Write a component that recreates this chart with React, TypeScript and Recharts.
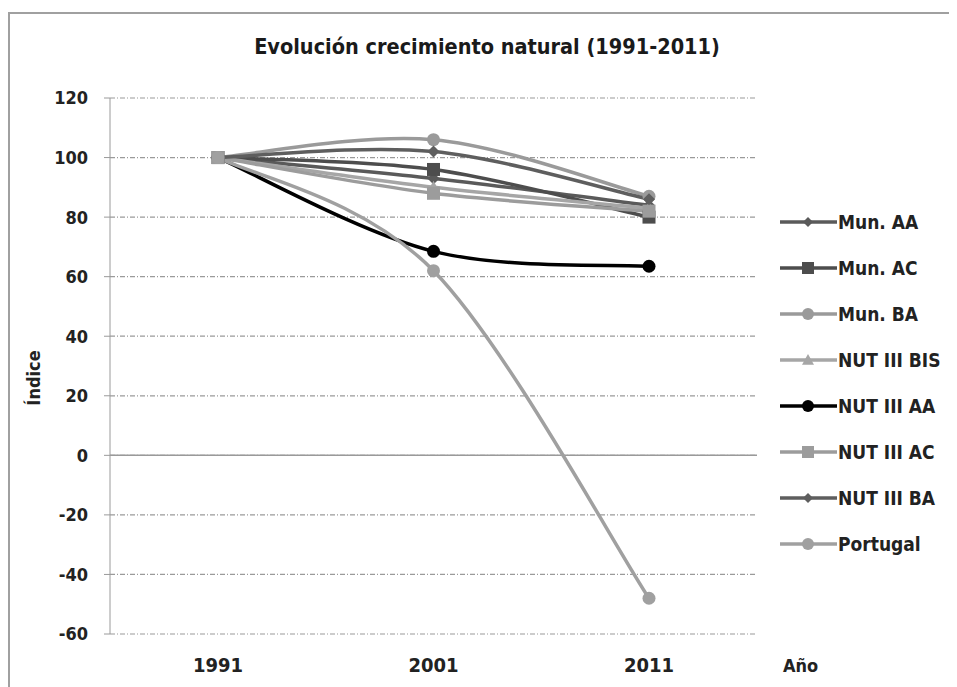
import { LineChart, Line, XAxis, YAxis, CartesianGrid, ReferenceLine } from "recharts";

const years = ["1991", "2001", "2011"];
const munAA = [100, 93, 84];
const munAC = [100, 96, 80];
const munBA = [100, 106, 87];
const nutBIS = [100, 90, 83];
const nutAA = [100, 68.5, 63.5];
const nutAC = [100, 88, 82];
const nutBA = [100, 102, 86];
const portugal = [100, 62, -48];
const yTicks = [-60, -40, -20, 0, 20, 40, 60, 80, 100, 120];

const FONT = "'DejaVu Sans Condensed', 'Liberation Sans Narrow', 'DejaVu Sans', sans-serif";

type Shape = "diamond" | "square" | "circle" | "triangle";

const series: { key: string; name: string; values: number[]; color: string; shape: Shape }[] = [
  { key: "munAA", name: "Mun. AA", values: munAA, color: "#5a5a5a", shape: "diamond" },
  { key: "munAC", name: "Mun. AC", values: munAC, color: "#4d4d4d", shape: "square" },
  { key: "munBA", name: "Mun. BA", values: munBA, color: "#9a9a9a", shape: "circle" },
  { key: "nutBIS", name: "NUT III BIS", values: nutBIS, color: "#a6a6a6", shape: "triangle" },
  { key: "nutAA", name: "NUT III AA", values: nutAA, color: "#000000", shape: "circle" },
  { key: "nutAC", name: "NUT III AC", values: nutAC, color: "#9c9c9c", shape: "square" },
  { key: "nutBA", name: "NUT III BA", values: nutBA, color: "#5e5e5e", shape: "diamond" },
  { key: "portugal", name: "Portugal", values: portugal, color: "#a0a0a0", shape: "circle" },
];

const data = years.map((year, i) => {
  const row: Record<string, string | number> = { year };
  series.forEach((s) => (row[s.key] = s.values[i]));
  return row;
});

// spreadsheet-style smoothing (cardinal bezier, control = P1 ± (P2 - P0) / 6)
const smoothCurve = (context: any) => {
  let pts: number[][] = [];
  return {
    areaStart() {},
    areaEnd() {},
    lineStart() {
      pts = [];
    },
    point(x: number, y: number) {
      pts.push([+x, +y]);
    },
    lineEnd() {
      if (!pts.length) return;
      context.moveTo(pts[0][0], pts[0][1]);
      for (let i = 0; i < pts.length - 1; i++) {
        const p0 = pts[Math.max(i - 1, 0)];
        const p1 = pts[i];
        const p2 = pts[i + 1];
        const p3 = pts[Math.min(i + 2, pts.length - 1)];
        context.bezierCurveTo(
          p1[0] + (p2[0] - p0[0]) / 6,
          p1[1] + (p2[1] - p0[1]) / 6,
          p2[0] - (p3[0] - p1[0]) / 6,
          p2[1] - (p3[1] - p1[1]) / 6,
          p2[0],
          p2[1]
        );
      }
    },
  };
};

// marker drawn around (cx, cy)
const marker = (shape: Shape, cx: number, cy: number, color: string, size: number, k?: string) => {
  if (shape === "square")
    return <rect key={k} x={cx - size} y={cy - size} width={size * 2} height={size * 2} fill={color} />;
  if (shape === "diamond")
    return (
      <path
        key={k}
        d={`M${cx},${cy - size} L${cx + size},${cy} L${cx},${cy + size} L${cx - size},${cy} Z`}
        fill={color}
      />
    );
  if (shape === "triangle")
    return (
      <path
        key={k}
        d={`M${cx},${cy - size} L${cx + size},${cy + size * 0.8} L${cx - size},${cy + size * 0.8} Z`}
        fill={color}
      />
    );
  return <circle key={k} cx={cx} cy={cy} r={size} fill={color} />;
};

const dotFor = (shape: Shape, color: string) => (props: any) => {
  const { cx, cy, index } = props;
  if (cx == null || cy == null) return <g key={index} />;
  return marker(shape, cx, cy, color, shape === "diamond" ? 6 : 6.5, `d-${index}`);
};

const LegendBox = () => (
  <div style={{ fontFamily: FONT }}>
    {series.map((s) => (
      <div key={s.key} style={{ height: 46, display: "flex", alignItems: "center" }}>
        <svg width={58} height={16}>
          <line x1={0} y1={8} x2={57} y2={8} stroke={s.color} strokeWidth={3.5} />
          {marker(s.shape, 28, 8, s.color, s.shape === "diamond" ? 5 : 6)}
        </svg>
        <span style={{ fontSize: 19, fontWeight: 700, color: "#222", marginLeft: 0 }}>{s.name}</span>
      </div>
    ))}
  </div>
);

export default function App() {
  return (
    <div style={{ position: "relative", width: 949, height: 679 }}>
      <div
        style={{
          position: "absolute",
          left: 0,
          top: 4,
          right: -20,
          bottom: -20,
          borderTop: "2px solid #a0a0a0",
          borderLeft: "2px solid #a0a0a0",
        }}
      />
      <div
        style={{
          position: "absolute",
          left: 0,
          width: 958,
          top: 26,
          textAlign: "center",
          fontFamily: FONT,
          fontSize: 21.5,
          fontWeight: 700,
          color: "#1a1a1a",
        }}
      >
        Evolución crecimiento natural (1991-2011)
      </div>
      <div
        style={{
          position: "absolute",
          left: 25,
          top: 370,
          transform: "translate(-50%, -50%) rotate(-90deg)",
          fontFamily: FONT,
          fontSize: 18,
          fontWeight: 700,
          color: "#222",
        }}
      >
        Índice
      </div>
      <div
        style={{
          position: "absolute",
          left: 775,
          top: 647,
          fontFamily: FONT,
          fontSize: 18,
          fontWeight: 700,
          color: "#222",
        }}
      >
        Año
      </div>
      <LineChart
        width={949}
        height={679}
        data={data}
        margin={{ top: 90, right: 200, bottom: 13, left: 42 }}
        style={{ position: "absolute", left: 0, top: 0 }}
      >
        <CartesianGrid
          vertical={false}
          stroke="#9a9a9a"
          strokeDasharray="5 2 1 2"
          strokeWidth={1.2}
        />
        <XAxis
          dataKey="year"
          height={40}
          axisLine={false}
          tickLine={false}
          padding={{ left: 108, right: 108 }}
          tickMargin={18}
          tick={{ fontFamily: FONT, fontSize: 20, fontWeight: 700, fill: "#222" }}
        />
        <YAxis
          width={60}
          domain={[-60, 120]}
          ticks={yTicks}
          interval={0}
          stroke="#9a9a9a"
          tickSize={6}
          tickMargin={16}
          tick={{ fontFamily: FONT, fontSize: 18, fontWeight: 700, fill: "#222" }}
        />
        <ReferenceLine y={0} stroke="#9a9a9a" strokeWidth={1.5} />
        {series.map((s) => (
          <Line
            key={s.key}
            dataKey={s.key}
            name={s.name}
            type={smoothCurve as any}
            stroke={s.color}
            strokeWidth={3.5}
            dot={dotFor(s.shape, s.color)}
            activeDot={false}
            isAnimationActive={false}
          />
        ))}
      </LineChart>
      <div style={{ position: "absolute", left: 772, top: 191, width: 177 }}>
        <LegendBox />
      </div>
    </div>
  );
}
